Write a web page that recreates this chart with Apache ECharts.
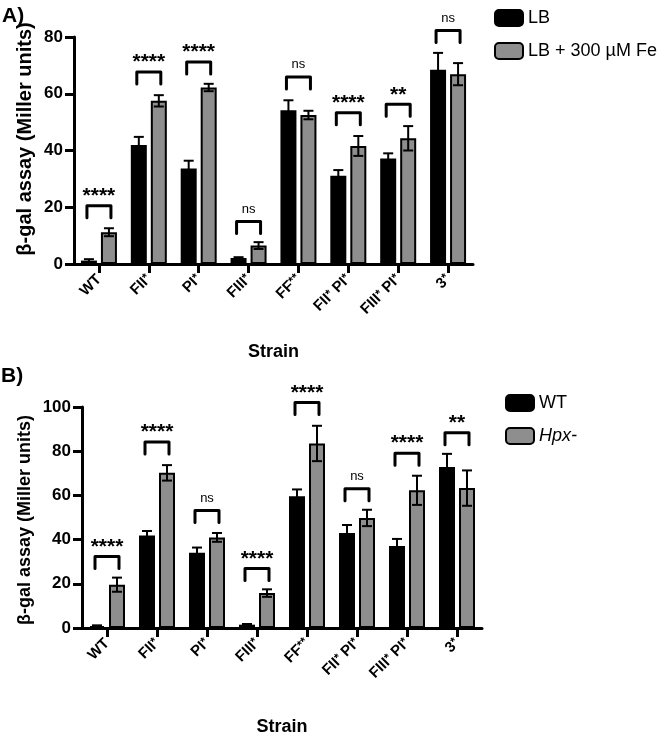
<!DOCTYPE html>
<html><head><meta charset="utf-8">
<script src="https://cdn.jsdelivr.net/npm/echarts@6/dist/echarts.min.js"></script>
<style>html,body{margin:0;padding:0;background:#fff}#c{width:666px;height:737px}</style>
</head><body><div id="c"></div>
<script>
// ---- data ----
const categories = ['WT', 'FII*', 'PI*', 'FIII*', 'FF**', 'FII* PI*', 'FIII* PI*', '3*'];
const yTicksA = [0, 20, 40, 60, 80];
const yTicksB = [0, 20, 40, 60, 80, 100];

// Panel A
const lbMean = [1.2, 41.9, 33.7, 2.1, 54.2, 31.1, 37.2, 68.5];
const lbErr  = [0.5, 2.9, 2.7, 0.3, 3.5, 2.0, 1.8, 5.9];
const feMean = [11.2, 57.5, 62.2, 6.5, 52.5, 41.6, 44.3, 66.9];
const feErr  = [1.4, 2.0, 1.3, 1.2, 1.5, 3.5, 4.3, 3.9];
const sigTextA = ['****', '****', '****', 'ns', 'ns', '****', '**', 'ns'];
const sigYA    = [20.5, 67.7, 71.2, 15.0, 65.9, 53.3, 56.3, 82.3];

// Panel B
const wtMean  = [0.9, 41.8, 34.0, 1.5, 59.6, 43.0, 37.1, 72.9];
const wtErr   = [0.3, 2.1, 2.4, 0.3, 3.1, 3.6, 3.2, 5.9];
const hpxMean = [19.6, 70.2, 41.0, 15.8, 83.5, 49.8, 62.3, 63.3];
const hpxErr  = [3.2, 3.5, 2.0, 1.7, 8.0, 3.7, 6.6, 8.0];
const sigTextB = ['****', '****', 'ns', '****', '****', 'ns', '****', '**'];
const sigYB    = [32.3, 84.2, 53.2, 26.9, 102.0, 63.0, 79.1, 88.3];

// ---- styling ----
const FONT = '"Liberation Sans", Arial, sans-serif';
const GRAY = '#8e8e8e';
const BAR_OFF = 10;   // px offset of each bar centre from the category centre

function errData(mean, err) { return mean.map((m, i) => [i, m, err[i]]); }
function sigData(ys) { return ys.map((y, i) => [i, y]); }

function errRender(offset) {
  return function (params, api) {
    const i = api.value(0), m = api.value(1), e = api.value(2);
    const top = api.coord([i, m + e]);
    const bot = api.coord([i, m - e]);
    const cx = top[0] + offset;
    const st = { stroke: '#000', lineWidth: 2 };
    return { type: 'group', children: [
      { type: 'line', shape: { x1: cx, y1: top[1], x2: cx, y2: bot[1] }, style: st },
      { type: 'line', shape: { x1: cx - 5, y1: top[1], x2: cx + 5, y2: top[1] }, style: st },
      { type: 'line', shape: { x1: cx - 5, y1: bot[1], x2: cx + 5, y2: bot[1] }, style: st }
    ]};
  };
}

function sigRender(texts) {
  return function (params, api) {
    const p = api.coord([api.value(0), api.value(1)]);
    const cx = p[0], y = p[1];
    const t = texts[params.dataIndex];
    const star = t !== 'ns';
    return { type: 'group', children: [
      { type: 'polyline',
        shape: { points: [[cx - 12, y + 12], [cx - 12, y], [cx + 12, y], [cx + 12, y + 12]] },
        style: { stroke: '#000', lineWidth: 3, fill: null, lineJoin: 'round', lineCap: 'round' } },
      { type: 'text',
        style: { text: t, x: cx, y: star ? y + 1 : y - 6,
          align: 'center', verticalAlign: 'bottom', textAlign: 'center', textVerticalAlign: 'bottom',
          font: star ? ('bold 21px ' + FONT) : ('13px ' + FONT), fill: '#000' } }
    ]};
  };
}

const axisLine = { show: true, lineStyle: { color: '#000', width: 3 } };
const axisTick = { show: true, length: 9, lineStyle: { color: '#000', width: 3 } };

function xAxis(gi) {
  return {
    type: 'category', gridIndex: gi, data: categories,
    axisLine, axisTick: Object.assign({ alignWithLabel: true }, axisTick),
    axisLabel: { rotate: 45, margin: 13, fontSize: 15, fontWeight: 'bold', color: '#000', fontFamily: FONT, interval: 0,
      formatter: v => v.split(' ').map(w => w.replace(/(\*+)/, '{s|$1}')).join(' '),
      rich: { s: { fontSize: 12, fontWeight: 'bold', color: '#000', fontFamily: FONT, verticalAlign: 'top', padding: [0, 0, 3, 0] } } },
    name: 'Strain', nameLocation: 'middle', nameGap: gi === 0 ? 79 : 90,
    nameTextStyle: { fontSize: 18, fontWeight: 'bold', color: '#000', fontFamily: FONT },
    splitLine: { show: false }
  };
}
function yAxis(gi, ticks) {
  return {
    type: 'value', gridIndex: gi, min: ticks[0], max: ticks[ticks.length - 1], interval: ticks[1] - ticks[0],
    axisLine, axisTick,
    axisLabel: { margin: 11, fontSize: 17, fontWeight: 'bold', color: '#000', fontFamily: FONT },
    splitLine: { show: false }
  };
}

const barStyleBlack = { color: '#000', borderColor: '#000', borderWidth: 2 };
const barStyleGray = { color: GRAY, borderColor: '#000', borderWidth: 2 };

const option = {
  animation: false,
  backgroundColor: '#fff',
  grid: [
    { left: 74, top: 37, width: 399, height: 227 },
    { left: 82, top: 407, width: 400, height: 228 }
  ],
  xAxis: [xAxis(0), xAxis(1)],
  yAxis: [yAxis(0, yTicksA), yAxis(1, yTicksB)],
  legend: [
    { data: ['LB', 'LB + 300 µM Fe'], orient: 'vertical', left: 489, top: 4, itemWidth: 28, itemHeight: 16, itemGap: 15,
      icon: 'roundRect', textStyle: { fontSize: 18, color: '#000', fontFamily: FONT } },
    { data: ['WT', 'Hpx-'], orient: 'vertical', left: 500, top: 389, itemWidth: 28, itemHeight: 16, itemGap: 15,
      icon: 'roundRect', formatter: n => n === 'Hpx-' ? '{i|Hpx-}' : n,
      textStyle: { fontSize: 18, color: '#000', fontFamily: FONT,
        rich: { i: { fontStyle: 'italic', fontSize: 18, color: '#000', fontFamily: FONT } } } }
  ],
  graphic: [
    { type: 'text', left: 2, top: 6, style: { text: 'A)', font: 'bold 21px ' + FONT, fill: '#000' } },
    { type: 'text', left: 1, top: 366, style: { text: 'B)', font: 'bold 21px ' + FONT, fill: '#000' } },
    { type: 'text', x: 25, y: 139, rotation: Math.PI / 2,
      style: { text: 'β-gal assay (Miller units)', font: 'bold 20px ' + FONT, fill: '#000',
        align: 'center', verticalAlign: 'middle', textAlign: 'center', textVerticalAlign: 'middle' } },
    { type: 'text', x: 25, y: 520, rotation: Math.PI / 2,
      style: { text: 'β-gal assay (Miller units)', font: 'bold 18px ' + FONT, fill: '#000',
        align: 'center', verticalAlign: 'middle', textAlign: 'center', textVerticalAlign: 'middle' } }
  ],
  series: [
    { name: 'LB', type: 'bar', xAxisIndex: 0, yAxisIndex: 0, data: lbMean, barWidth: 16, barGap: '25%', itemStyle: barStyleBlack },
    { name: 'LB + 300 µM Fe', type: 'bar', xAxisIndex: 0, yAxisIndex: 0, data: feMean, barWidth: 16, barGap: '25%', itemStyle: barStyleGray },
    { type: 'custom', xAxisIndex: 0, yAxisIndex: 0, data: errData(lbMean, lbErr), renderItem: errRender(-BAR_OFF), z: 5, silent: true },
    { type: 'custom', xAxisIndex: 0, yAxisIndex: 0, data: errData(feMean, feErr), renderItem: errRender(BAR_OFF), z: 5, silent: true },
    { type: 'custom', xAxisIndex: 0, yAxisIndex: 0, data: sigData(sigYA), renderItem: sigRender(sigTextA), clip: false, z: 6, silent: true },

    { name: 'WT', type: 'bar', xAxisIndex: 1, yAxisIndex: 1, data: wtMean, barWidth: 16, barGap: '25%', itemStyle: barStyleBlack },
    { name: 'Hpx-', type: 'bar', xAxisIndex: 1, yAxisIndex: 1, data: hpxMean, barWidth: 16, barGap: '25%', itemStyle: barStyleGray },
    { type: 'custom', xAxisIndex: 1, yAxisIndex: 1, data: errData(wtMean, wtErr), renderItem: errRender(-BAR_OFF), z: 5, silent: true },
    { type: 'custom', xAxisIndex: 1, yAxisIndex: 1, data: errData(hpxMean, hpxErr), renderItem: errRender(BAR_OFF), z: 5, silent: true },
    { type: 'custom', xAxisIndex: 1, yAxisIndex: 1, data: sigData(sigYB), renderItem: sigRender(sigTextB), clip: false, z: 6, silent: true }
  ]
};

const chart = echarts.init(document.getElementById('c'), null, { renderer: 'canvas' });
chart.setOption(option);
</script>
</body></html>
